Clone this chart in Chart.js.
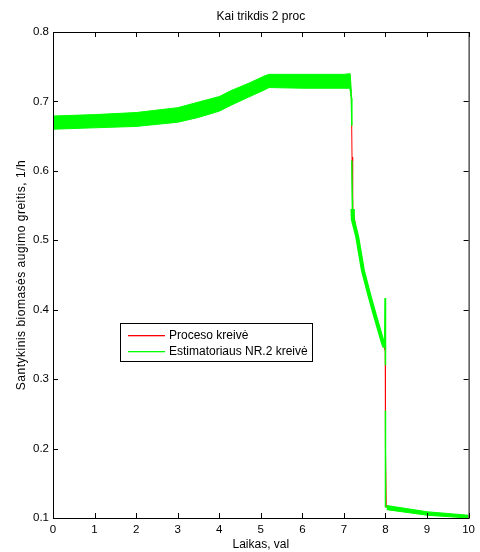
<!DOCTYPE html>
<html>
<head>
<meta charset="utf-8">
<script src="https://cdn.jsdelivr.net/npm/chart.js@4.4.1/dist/chart.umd.min.js"></script>
<style>
html,body{margin:0;padding:0;background:#fff;}
</style>
</head>
<body>
<canvas id="grafikas" width="480" height="552"></canvas>
<script>
var pavadinimas = 'Kai trikdis 2 proc';
var xPavadinimas = 'Laikas, val';
var yPavadinimas = 'Santykinis biomasės augimo greitis, 1/h';
var serijos = ['Proceso kreivė', 'Estimatoriaus NR.2 kreivė'];
var xTicks = [0, 1, 2, 3, 4, 5, 6, 7, 8, 9, 10];
var yTicks = [0.1, 0.2, 0.3, 0.4, 0.5, 0.6, 0.7, 0.8];

// zalia juosta (estimatorius) - virsutine ir apatine riba
var juostaA_x = [0, 1, 2, 3, 3.5, 4, 4.3, 4.7, 5.1, 5.2, 6, 7, 7.15, 7.18];
var juostaA_virsus = [0.679, 0.681, 0.684, 0.691, 0.699, 0.707, 0.716, 0.726, 0.737, 0.739, 0.739, 0.739, 0.740, 0.713];
var juostaA_apacia = [0.660, 0.662, 0.664, 0.670, 0.677, 0.686, 0.695, 0.706, 0.717, 0.720, 0.719, 0.719, 0.719, 0.705];

// kritimo dalis - storesne linija per juostos viduri
var juostaB_x = [7.205, 7.215, 7.32, 7.455, 7.62, 7.755, 7.945, 7.98];
var juostaB_y = [0.545, 0.530, 0.505, 0.457, 0.419, 0.390, 0.351, 0.346];

var juostaC_x = [8.03, 9, 10];
var juostaC_virsus = [0.118, 0.109, 0.104];
var juostaC_apacia = [0.112, 0.104, 0.100];

// plona zalia linija per kritimus (null = tarpas)
var zaliaLinija_x = [7.15, 7.18, 7.19, 7.19, 7.19, 7.20, 7.205, 7.205, 7.98, 7.99, 8.0, 8.0, 8.0, 8.0, 8.03];
var zaliaLinija_y = [0.719, 0.705, 0.665, null, 0.615, 0.560, 0.545, null, 0.346, 0.417, 0.320, null, 0.255, 0.116, 0.115];

// proceso kreive (raudona)
var procesas_x = [0, 1, 2, 3, 4, 4.7, 5.2, 7.15, 7.18, 7.195, 7.21, 7.33, 7.46, 7.62, 7.76, 7.95, 7.995, 8.0, 8.02, 9, 10];
var procesas_y = [0.669, 0.671, 0.674, 0.681, 0.696, 0.716, 0.729, 0.729, 0.705, 0.620, 0.545, 0.505, 0.457, 0.419, 0.390, 0.350, 0.340, 0.200, 0.116, 0.107, 0.102];

var ZALIA = '#00ff00';
var RAUDONA = '#ff0000';
var SRIFTAS = '"Liberation Sans", Arial, sans-serif';

function taskai(xs, ys) {
    return xs.map(function (x, i) { return {x: x, y: ys[i]}; });
}

function riba(xs, ys, fill, storis) {
    return {
        data: taskai(xs, ys),
        borderColor: ZALIA,
        backgroundColor: ZALIA,
        borderWidth: storis || 1,
        pointRadius: 0,
        fill: fill,
        tension: 0
    };
}

var datasets = [
    {label: serijos[1], data: taskai(zaliaLinija_x, zaliaLinija_y), borderColor: ZALIA, borderWidth: 1.5, pointRadius: 0, fill: false, spanGaps: false},
    riba(juostaA_x, juostaA_virsus, false),
    riba(juostaA_x, juostaA_apacia, '-1'),
    riba(juostaB_x, juostaB_y, false, 4),
    riba(juostaC_x, juostaC_virsus, false),
    riba(juostaC_x, juostaC_apacia, '-1'),
    {label: serijos[0], data: taskai(procesas_x, procesas_y), borderColor: RAUDONA, borderWidth: 1, pointRadius: 0, fill: false}
];

// matlab stiliaus remas, pavadinimai ir legenda
var matlabPlugin = {
    id: 'matlabRemas',
    afterDraw: function (chart) {
        var ctx = chart.ctx;
        var a = chart.chartArea;
        var sx = chart.scales.x, sy = chart.scales.y;
        ctx.save();
        ctx.strokeStyle = '#000';
        ctx.lineWidth = 1;
        ctx.strokeRect(a.left + 0.5, a.top + 0.5, a.right - a.left, a.bottom - a.top);
        var tl = 5;
        ctx.beginPath();
        xTicks.forEach(function (t) {
            var px = Math.round(sx.getPixelForValue(t)) + 0.5;
            ctx.moveTo(px, a.bottom); ctx.lineTo(px, a.bottom - tl);
            ctx.moveTo(px, a.top); ctx.lineTo(px, a.top + tl);
        });
        yTicks.forEach(function (t) {
            var py = Math.round(sy.getPixelForValue(t)) + 0.5;
            ctx.moveTo(a.left, py); ctx.lineTo(a.left + tl, py);
            ctx.moveTo(a.right, py); ctx.lineTo(a.right - tl, py);
        });
        ctx.stroke();

        ctx.fillStyle = '#000';
        ctx.font = '12px ' + SRIFTAS;
        ctx.textAlign = 'center';
        ctx.textBaseline = 'middle';
        var cx = (a.left + a.right) / 2;
        ctx.fillText(pavadinimas, cx, 17);
        ctx.fillText(xPavadinimas, cx, 545);
        ctx.save();
        ctx.translate(22, (a.top + a.bottom) / 2);
        ctx.rotate(-Math.PI / 2);
        ctx.letterSpacing = '0.5px';
        ctx.fillText(yPavadinimas, 0, 0);
        ctx.restore();

        // legenda
        var lx = 120.5, ly = 323.5;
        ctx.textAlign = 'left';
        var plotis = Math.max(ctx.measureText(serijos[0]).width, ctx.measureText(serijos[1]).width);
        var w = Math.round(48 + plotis + 5), h = 38;
        ctx.fillStyle = '#fff';
        ctx.fillRect(lx, ly, w, h);
        ctx.strokeStyle = '#000';
        ctx.strokeRect(lx, ly, w, h);
        var eil = [
            {txt: chart.data.datasets[6].label, sp: RAUDONA, y: 335},
            {txt: chart.data.datasets[0].label, sp: ZALIA, y: 351}
        ];
        eil.forEach(function (e) {
            ctx.fillStyle = e.sp;
            ctx.fillRect(128, e.y, 37, 1.3);
            ctx.fillStyle = '#000';
            ctx.fillText(e.txt, 169, e.y + 0.5);
        });
        ctx.restore();
    }
};

var grafikas = new Chart(document.getElementById('grafikas'), {
    type: 'line',
    data: {datasets: datasets},
    plugins: [matlabPlugin],
    options: {
        responsive: false,
        animation: false,
        devicePixelRatio: 1,
        layout: {padding: {top: 32, right: 7, left: 0, bottom: 0}},
        plugins: {legend: {display: false}, title: {display: false}, tooltip: {enabled: false}},
        scales: {
            x: {
                type: 'linear', min: 0, max: 10,
                grid: {display: false, drawTicks: false},
                border: {display: false},
                afterBuildTicks: function (s) { s.ticks = xTicks.map(function (v) { return {value: v}; }); },
                afterFit: function (s) { s.height = 34; },
                ticks: {color: '#000', font: {size: 11.5, family: SRIFTAS}, padding: 5, maxRotation: 0, autoSkip: false}
            },
            y: {
                type: 'linear', min: 0.1, max: 0.8,
                grid: {display: false, drawTicks: false},
                border: {display: false},
                afterBuildTicks: function (s) { s.ticks = yTicks.map(function (v) { return {value: v}; }); },
                afterFit: function (s) { s.width = 53; },
                ticks: {
                    color: '#000', font: {size: 11.5, family: SRIFTAS}, padding: 4, autoSkip: false,
                    callback: function (v) { return v.toFixed(1); }
                }
            }
        }
    }
});
</script>
</body>
</html>
